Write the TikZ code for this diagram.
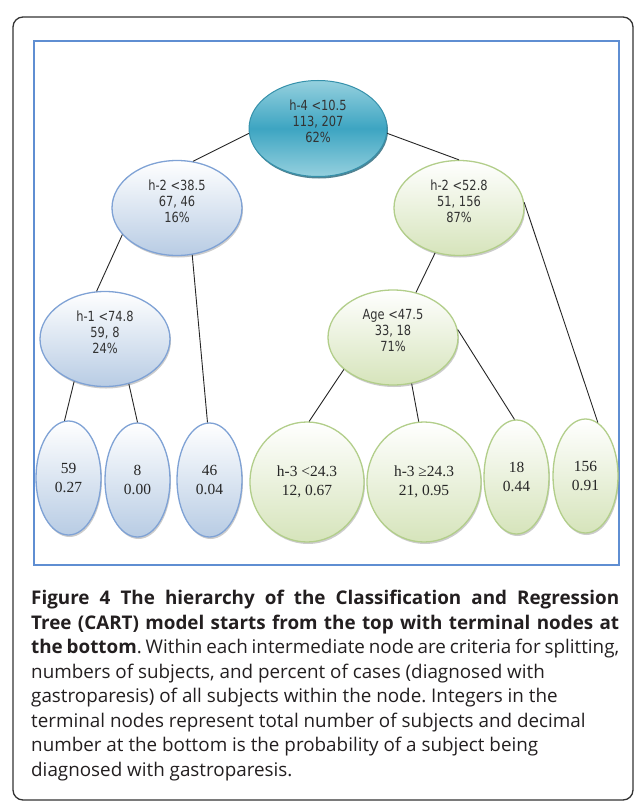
\documentclass[tikz,border=0pt]{standalone}
\usepackage{fontspec}
\setmainfont{Liberation Serif}
\newfontfamily\splitfont[FakeStretch=0.82]{DejaVu Sans}
\newfontfamily\capfont{Open Sans}
\usetikzlibrary{shapes.geometric,shadows}
\definecolor{rootmid}{HTML}{3DA5C2}
\definecolor{rootlight}{HTML}{95D0DE}
\definecolor{rootedge}{HTML}{3691AB}
\definecolor{bluebot}{HTML}{B8CCE4}
\definecolor{blueedge}{HTML}{7FA2D5}
\definecolor{greenbot}{HTML}{D6E4BB}
\definecolor{greenedge}{HTML}{B2CE8A}
\definecolor{frameblue}{HTML}{5F8ED2}
\definecolor{captext}{HTML}{231F20}

\begin{document}
\begin{tikzpicture}[x=1bp,y=-1bp,
	split/.style={ellipse,inner sep=0pt,align=center,font=\splitfont\fontsize{14}{16}\selectfont,text=black!80,minimum width=130bp,minimum height=95bp,text depth=14bp},
	leaf/.style={ellipse,inner sep=0pt,align=center,font=\fontsize{15.5}{19}\selectfont,text=black!85,minimum width=65bp,minimum height=114bp},
	bigleaf/.style={leaf,minimum width=114bp,minimum height=120bp},
	bluenode/.style={draw=blueedge,line width=1.3bp,top color=white,bottom color=bluebot,drop shadow={shadow xshift=1bp,shadow yshift=-2bp,opacity=0.4}},
	greennode/.style={draw=greenedge,line width=1.3bp,top color=white,bottom color=greenbot,drop shadow={shadow xshift=1bp,shadow yshift=-2bp,opacity=0.4}},
	rootnode/.style={split,minimum width=138bp,minimum height=96bp,draw=rootedge,line width=1bp,top color=rootlight,bottom color=rootlight,middle color=rootmid,drop shadow={shadow xshift=1bp,shadow yshift=-2bp,fill=rootedge!70!black,opacity=0.8}},
	link/.style={line width=0.9bp,black!85}]
		\fill[white] (0,0) rectangle (637,802);
		\useasboundingbox (0,0) rectangle (637,802);
		\draw[rounded corners=10bp,line width=1.3bp,black!80] (13,17) rectangle (633,800);
		\draw[frameblue,line width=1.3bp] (34,41) rectangle (619,565);
		\draw (318,128.5) node[rootnode] (root) {h-4 <10.5\\113, 207\\62\%};
		\draw (177,208) node[split,bluenode] (h2a) {h-2 <38.5\\67, 46\\16\%};
		\draw (459,208) node[split,greennode] (h2b) {h-2 <52.8\\51, 156\\87\%};
		\draw (105,339) node[split,bluenode] (h1) {h-1 <74.8\\59, 8\\24\%};
		\draw (393,337.5) node[split,greennode] (age) {Age <47.5\\33, 18\\71\%};
		\draw (68.5,478) node[leaf,bluenode] (t59) {59\\0.27};
		\draw (137.5,480) node[leaf,bluenode] (t8) {8\\0.00};
		\draw (209.5,480) node[leaf,bluenode] (t46) {46\\0.04};
		\draw (307,482) node[bigleaf,greennode] (h3a) {h-3 <24.3\\12, 0.67};
		\draw (424,482) node[bigleaf,greennode] (h3b) {h-3 ≥24.3\\21, 0.95};
		\draw (516.5,477) node[leaf,greennode] (t18) {18\\0.44};
		\draw (585.5,476) node[leaf,greennode] (t156) {156\\0.91};
		\draw[link] (root.184) -- (h2a.71);
		\draw[link] (root.356) -- (h2b.north);
		\draw[link] (h2a.206) -- (h1.100);
		\draw[link] (h2a.288) -- (t46.92);
		\draw[link] (h1.234) -- (t59.94);
		\draw[link] (h1.298) -- (t8.north);
		\draw[link] (h2b.5) -- (t156.77);
		\draw[link] (h2b.242) -- (age.63);
		\draw[link] (age.213) -- (h3a.88);
		\draw[link] (age.292) -- (h3b.95);
		\draw[link] (age.7) -- (t18.92);
		\draw (31,590) node[anchor=north west,inner sep=0pt,text width=588bp,align=justify,text=captext,font={\capfont\fontsize{18.9}{24.6}\selectfont\frenchspacing\tolerance=9999}] (caption) {\textbf{Figure 4 The hierarchy of the Classification and Regression\linebreak Tree (CART) model starts from the top with terminal nodes at\linebreak the bottom}. Within each intermediate node are criteria for splitting,\linebreak numbers of subjects, and percent of cases (diagnosed with\newline gastroparesis) of all subjects within the node. Integers in the\newline terminal nodes represent total number of subjects and decimal\newline number at the bottom is the probability of a subject being\newline diagnosed with gastroparesis.};
	\end{tikzpicture}
\end{document}
